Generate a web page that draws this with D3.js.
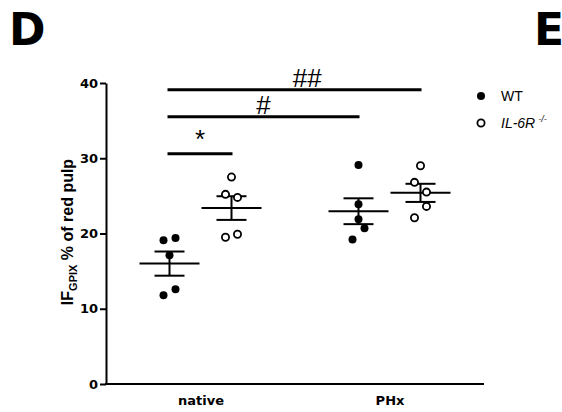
<!DOCTYPE html>
<html>
    <head>
        <meta charset="utf-8" />
        <title>IF GPIX red pulp</title>
        <script src="https://d3js.org/d3.v7.min.js"></script>
        <style>
            body {
                margin: 0;
                background: #fff;
            }
            * {
                font-family: Arial, 'Liberation Sans', sans-serif;
            }
            .axis path,
            .axis line {
                stroke: black;
                stroke-width: 2px;
            }
            .axis text {
                font-family: 'DejaVu Sans', sans-serif;
                font-size: 13px;
                font-weight: bold;
                fill: black;
            }
        </style>
    </head>
    <body>
        <script>
            // groups and series
            const categories = ['native', 'PHx'];
            const seriesNames = ['WT', 'IL-6R'];
            const yTicks = [0, 10, 20, 30, 40];

            // values, one array per group/series
            const nativeWT = [19.1, 19.4, 17.1, 11.8, 12.6];
            const nativeKO = [27.5, 25.2, 24.8, 19.5, 19.9];
            const phxWT = [29.1, 23.9, 21.9, 20.7, 19.2];
            const phxKO = [29.0, 26.8, 25.5, 23.6, 22.1];

            // horizontal scatter of the dots (-1 .. 1)
            const jitterNativeWT = [-1, 1, 0, -1, 1];
            const jitterNativeKO = [0, -1, 1, -1, 1];
            const jitterPhxWT = [0, 0, 0, 1, -1];
            const jitterPhxKO = [0, -1, 1, 1, -1];

            // significance bars: label, height, from group, to group, where the label sits along the bar
            const sigLabels = ['*', '#', '##'];
            const sigLevels = [30.6, 35.5, 39.1];
            const sigFrom = [0, 0, 0];
            const sigTo = [1, 2, 3];
            const sigLabelAt = [0.5, 0.5, 0.55];

            const groups = [
                { cat: 'native', series: 0, values: nativeWT, jitter: jitterNativeWT },
                { cat: 'native', series: 1, values: nativeKO, jitter: jitterNativeKO },
                { cat: 'PHx', series: 0, values: phxWT, jitter: jitterPhxWT },
                { cat: 'PHx', series: 1, values: phxKO, jitter: jitterPhxKO },
            ];

            const width = 562,
                height = 412;

            const svg = d3.select('body').append('svg').attr('width', width).attr('height', height);

            const x = d3.scalePoint().domain(categories).range([106, 484]).padding(0.5);
            const offset = d3.scaleOrdinal().domain([0, 1]).range([-31, 31]);
            const jit = d3.scaleLinear().domain([-1, 1]).range([-6, 6]);
            const y = d3.scaleLinear().domain([0, 40]).range([384, 83]);

            const gx = (g) => x(g.cat) + offset(g.series);

            // panel letters
            [['D', 9], ['E', 534]].forEach(([letter, lx]) => {
                svg.append('text')
                    .attr('x', lx)
                    .attr('y', 45)
                    .style('font-family', "'DejaVu Sans', sans-serif")
                    .style('font-size', '44px')
                    .style('font-weight', 'bold')
                    .text(letter);
            });

            // axes
            svg.append('g')
                .attr('class', 'axis')
                .attr('transform', 'translate(106,0)')
                .call(d3.axisLeft(y).tickValues(yTicks).tickSize(6).tickSizeOuter(0).tickPadding(2));

            const xAxis = svg
                .append('g')
                .attr('class', 'axis')
                .attr('transform', 'translate(0,384)')
                .call(d3.axisBottom(x).tickSize(0).tickSizeOuter(0).tickPadding(12));
            xAxis.select('.domain').attr('d', 'M105,0H484');

            // y label
            const yl = svg
                .append('text')
                .attr('transform', 'translate(73,232) rotate(-90)')
                .attr('text-anchor', 'middle')
                .style('font-size', '16px')
                .style('font-weight', 'bold');
            yl.append('tspan').text('IF');
            yl.append('tspan').attr('dy', 4).style('font-size', '11px').text('GPIX');
            yl.append('tspan').attr('dy', -4).text(' % of red pulp');

            // mean and SEM
            groups.forEach((g) => {
                const m = d3.mean(g.values);
                const sem = d3.deviation(g.values) / Math.sqrt(g.values.length);
                const cx = gx(g);
                const stat = svg.append('g').attr('stroke', 'black').attr('stroke-width', 2);
                stat.append('line').attr('x1', cx - 30).attr('x2', cx + 30).attr('y1', y(m)).attr('y2', y(m));
                stat.append('line').attr('x1', cx).attr('x2', cx).attr('y1', y(m - sem)).attr('y2', y(m + sem));
                [m - sem, m + sem].forEach((v) => {
                    stat.append('line').attr('x1', cx - 15).attr('x2', cx + 15).attr('y1', y(v)).attr('y2', y(v));
                });
            });

            // dots
            groups.forEach((g) => {
                svg.append('g')
                    .selectAll('circle')
                    .data(g.values)
                    .join('circle')
                    .attr('cx', (d, i) => gx(g) + jit(g.jitter[i]))
                    .attr('cy', (d) => y(d))
                    .attr('r', g.series === 0 ? 4 : 3.6)
                    .attr('fill', g.series === 0 ? 'black' : 'white')
                    .attr('stroke', 'black')
                    .attr('stroke-width', g.series === 0 ? 0 : 1.8);
            });

            // significance bars
            sigLabels.forEach((lab, i) => {
                const x1 = gx(groups[sigFrom[i]]) - 2;
                const x2 = gx(groups[sigTo[i]]) + 1;
                svg.append('line')
                    .attr('x1', x1)
                    .attr('x2', x2)
                    .attr('y1', y(sigLevels[i]))
                    .attr('y2', y(sigLevels[i]))
                    .attr('stroke', 'black')
                    .attr('stroke-width', 3);
                svg.append('text')
                    .attr('x', x1 + (x2 - x1) * sigLabelAt[i])
                    .attr('y', y(sigLevels[i]) - (lab === '*' ? 6 : 3))
                    .attr('text-anchor', 'middle')
                    .style('font-size', '26px')
                    .text(lab);
            });

            // legend
            const legend = svg.append('g').attr('transform', 'translate(481,96)');
            seriesNames.forEach((name, i) => {
                const row = legend.append('g').attr('transform', `translate(0,${i * 27})`);
                row.append('circle')
                    .attr('r', i === 0 ? 4 : 3.6)
                    .attr('fill', i === 0 ? 'black' : 'white')
                    .attr('stroke', 'black')
                    .attr('stroke-width', i === 0 ? 0 : 1.8);
                const t = row.append('text').attr('x', 20).attr('y', 5).style('font-size', '14px');
                if (i === 0) {
                    t.text(name);
                } else {
                    t.append('tspan').style('font-style', 'italic').text(name);
                    t.append('tspan').attr('dx', 3).attr('dy', -6).style('font-size', '9px').style('font-style', 'italic').text('-/-');
                }
            });
        </script>
    </body>
</html>
